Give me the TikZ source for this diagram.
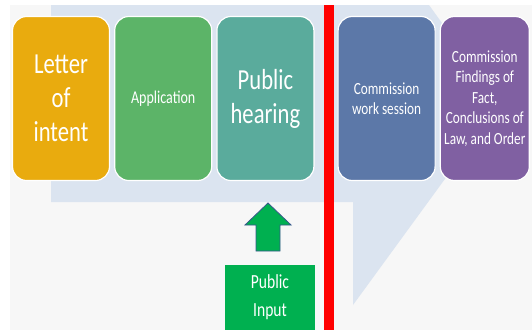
\documentclass[tikz,border=0pt]{standalone}
\usepackage{fontspec}
\setmainfont{Carlito}[FakeStretch=0.78]
\usetikzlibrary{positioning}

\definecolor{lettercol}{RGB}{233,171,14}
\definecolor{appcol}{RGB}{92,180,104}
\definecolor{hearcol}{RGB}{90,171,156}
\definecolor{workcol}{RGB}{92,120,168}
\definecolor{findcol}{RGB}{128,96,162}
\definecolor{bandcol}{RGB}{219,228,240}
\definecolor{inputcol}{RGB}{0,176,80}
\definecolor{canvascol}{RGB}{247,247,247}
\definecolor{edgecol}{RGB}{56,87,140}

\tikzset{
  stage/.style={draw=white, line width=1.2pt, rounded corners=14pt,
    minimum width=97pt, minimum height=164pt, text=white, align=center, inner sep=2pt},
  bigtext/.style={font=\fontsize{29}{34}\selectfont},
  smalltext/.style={font=\fontsize{17}{20.5}\selectfont}
}

\begin{document}
\begin{tikzpicture}[x=1pt,y=-1pt]
\useasboundingbox (0,0) rectangle (532,330);
% canvas and the band behind the stages
\fill[white] (0,0) rectangle (532,330);
\fill[canvascol] (10,5) rectangle (532,330);
\fill[bandcol] (51,5) -- (429,5) -- (500,103.5) -- (353,305) -- (353,202) -- (51,202) -- cycle;

% stages
\node[stage, fill=lettercol, bigtext] (letter) at (61,98.5) {Letter\\of\\intent};
\node[stage, fill=appcol, smalltext, font=\fontsize{18}{20}\selectfont, right=4pt of letter] (application) {Application};
\node[stage, fill=hearcol, bigtext, right=4pt of application] (hearing) {Public\\hearing};
\node[stage, fill=workcol, smalltext, right=23pt of hearing] (worksession) {Commission\\work session};
\node[stage, fill=findcol, smalltext, minimum width=89pt, right=4pt of worksession] (findings)
  {Commission\\Findings of\\Fact,\\Conclusions of\\Law, and Order};

% red divider
\fill[red] (324,5) rectangle (334,330);

% public input
\node[fill=inputcol, text=white, minimum width=90pt, minimum height=65pt, inner sep=0pt,
  align=center, font=\fontsize{20}{28}\selectfont] (input) at (270,297.5) {Public\\Input};
\draw[edgecol, line width=0.8pt, fill=inputcol] (268,203) -- (291,225) -- (280,225) -- (280,251)
  -- (256,251) -- (256,225) -- (245,225) -- cycle;
\end{tikzpicture}
\end{document}
